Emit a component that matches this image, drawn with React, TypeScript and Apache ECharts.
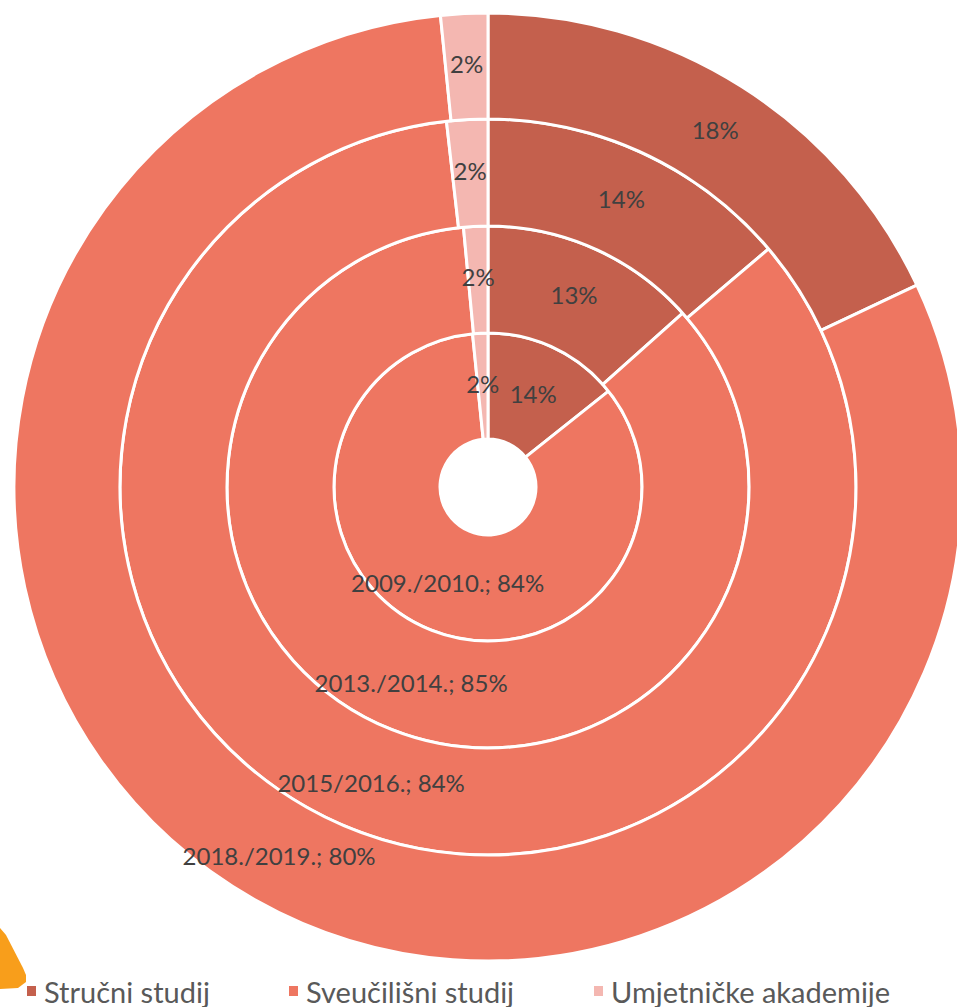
import React, { useEffect, useRef } from "react";
import * as echarts from "echarts";

const categories = ["Stručni studij", "Sveučilišni studij", "Umjetničke akademije"];
const years = ["2009./2010.", "2013./2014.", "2015/2016.", "2018./2019."];
const strucni = [14.3, 13.4, 13.8, 18.0];
const sveucilisni = [84.1, 85.1, 84.4, 80.4];
const umjetnicke = [1.6, 1.5, 1.8, 1.6];
const colors = ["#C4604D", "#EE7661", "#F4B7B1"];

const radii: [number, number][] = [
  [48, 154],
  [154, 261],
  [261, 368],
  [368, 474],
];

export default function App() {
  const ref = useRef<HTMLDivElement>(null);
  useEffect(() => {
    document.body.style.margin = "0";
    const chart = echarts.init(ref.current!, null, { renderer: "svg" });
    const series = years.map((y, i) => ({
      type: "pie",
      name: y,
      center: [488, 487],
      radius: radii[i],
      startAngle: 90,
      clockwise: true,
      avoidLabelOverlap: false,
      silent: true,
      itemStyle: { borderColor: "#ffffff", borderWidth: 3 },
      label: {
        show: true,
        position: "inside",
        color: "#404040",
        fontFamily: "Lato",
        fontSize: 24,
        formatter: (p: any) =>
          p.dataIndex === 1
            ? `${p.seriesName}; ${Math.round(p.percent)}%`
            : `${Math.round(p.percent)}%`,
      },
      labelLine: { show: false },
      emphasis: { disabled: true },
      data: [
        { name: categories[0], value: strucni[i] },
        { name: categories[1], value: sveucilisni[i] },
        { name: categories[2], value: umjetnicke[i] },
      ],
    }));
    const legendLefts = [25, 287, 592];
    chart.setOption({
      animation: false,
      color: colors,
      legend: categories.map((c, i) => ({
        data: [c],
        left: legendLefts[i],
        top: 976,
        padding: 0,
        icon: "rect",
        itemWidth: 11,
        itemHeight: 12,
        selectedMode: false,
        textStyle: {
          color: "#595959",
          fontFamily: "Lato",
          fontSize: 29,
          lineHeight: 30,
          padding: [0, 0, 0, 2],
        },
      })),
      graphic: [
        {
          type: "polygon",
          shape: {
            points: [
              [0, 928],
              [6, 935],
              [23, 968],
              [26, 975],
              [26, 982],
              [18, 988],
              [0, 989],
            ],
          },
          style: { fill: "#F89E1B" },
        },
      ],
      series,
    });
    return () => chart.dispose();
  }, []);
  return <div ref={ref} style={{ position: "absolute", left: 0, top: 0, width: 957, height: 1007 }} />;
}
